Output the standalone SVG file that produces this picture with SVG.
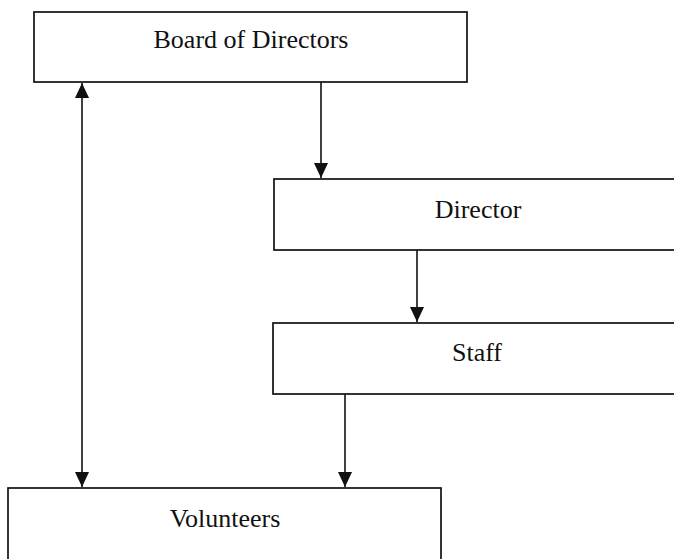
<svg xmlns="http://www.w3.org/2000/svg" width="674" height="559" viewBox="0 0 674 559">
<style>
.box{fill:#fff;stroke:#111;stroke-width:1.7}
.lbl{font-family:"Liberation Serif","Times New Roman",serif;font-size:26px;fill:#111;text-anchor:middle}
.conn{stroke:#111;stroke-width:1.6;fill:none}
</style>
<defs>
<marker id="ahd" viewBox="0 0 15 14" refX="15" refY="7" markerWidth="15" markerHeight="14" markerUnits="userSpaceOnUse" orient="auto-start-reverse">
<path d="M0,0 L15,7 L0,14 Z" fill="#111"/>
</marker>
</defs>
<rect width="674" height="559" fill="#fff"/>
<g id="board">
<rect class="box" x="34" y="12" width="433" height="70"/>
<text class="lbl" x="251" y="48">Board of Directors</text>
</g>
<g id="director">
<rect class="box" x="274" y="179" width="410" height="71"/>
<text class="lbl" x="478" y="218">Director</text>
</g>
<g id="staff">
<rect class="box" x="273" y="323" width="411" height="71"/>
<text class="lbl" x="477" y="361">Staff</text>
</g>
<g id="volunteers">
<rect class="box" x="8" y="488" width="433" height="80"/>
<text class="lbl" x="225" y="527">Volunteers</text>
</g>
<g id="connectors">
<line class="conn" x1="321" y1="82" x2="321" y2="178" marker-end="url(#ahd)"/>
<line class="conn" x1="417" y1="250" x2="417" y2="322" marker-end="url(#ahd)"/>
<line class="conn" x1="345" y1="394" x2="345" y2="487" marker-end="url(#ahd)"/>
<line class="conn" x1="82" y1="83" x2="82" y2="487" marker-start="url(#ahd)" marker-end="url(#ahd)"/>
</g>
</svg>
